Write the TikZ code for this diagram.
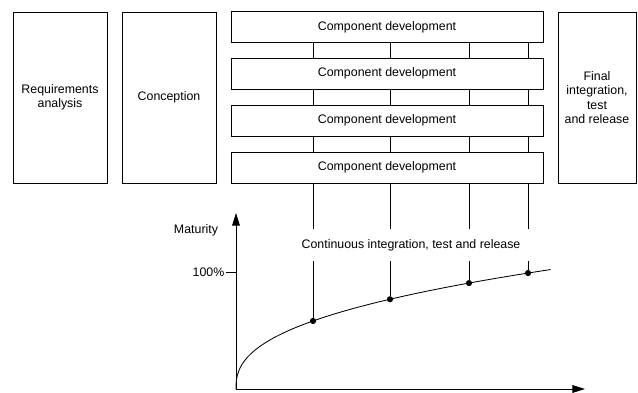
\documentclass[tikz,border=0pt]{standalone}
\usepackage{fontspec}
\setmainfont{Liberation Sans}
\usetikzlibrary{positioning, arrows.meta, backgrounds}

\begin{document}
\begin{tikzpicture}[
    x=0.025cm, y=-0.025cm,
    % Phase box style - tall boxes
    phase/.style={
        rectangle,
        draw=black,
        fill=white,
        line width=0.6pt,
        minimum width=2.35cm,
        minimum height=4.275cm,
        align=center,
        font=\fontsize{8.8}{10.2}\selectfont
    },
    % Component box style
    devbox/.style={
        rectangle,
        draw=black,
        fill=white,
        line width=0.6pt,
        minimum width=7.8cm,
        minimum height=0.775cm,
        font=\fontsize{8.8}{10.2}\selectfont
    },
    % Axis style
    axis/.style={
        -{Triangle[length=9pt, width=5.5pt]},
        line width=0.6pt
    },
    % Label style
    lbl/.style={
        font=\fontsize{8.8}{10.2}\selectfont
    },
    % Milestone dot
    dot/.style={
        circle,
        fill=black,
        inner sep=0pt,
        minimum size=4.4pt
    }
]
\useasboundingbox (0,0) rectangle (638,393);

% === Phases ===
\node[phase] (req) at (60, 97.5) {Requirements\\analysis};
\node[phase] (con) at (169, 97.5) {Conception};
\node[phase, minimum width=1.95cm] (fin) at (597, 97.5) {Final\\integration,\\test\\and release};

% Component development boxes
\node[devbox] (dev1) at (387, 27) {Component development};
\node[devbox] (dev2) at (387, 73.5) {Component development};
\node[devbox] (dev3) at (387, 120.5) {Component development};
\node[devbox] (dev4) at (387, 167.5) {Component development};

% === Maturity axes ===
\coordinate (org) at (236, 389);
\coordinate (ytop) at (236, 213);
\coordinate (xend) at (585, 389);
\draw[axis] (org) -- (ytop);
\draw[axis] (org) -- (xend);

\coordinate (full) at (236, 272);
\coordinate (tick) at (226, 272);
\draw[line width=0.6pt] (tick) -- (full);
\node[lbl, anchor=east, inner sep=1pt] at (tick) {100\%};
\node[lbl] (mat) at (196, 230) {Maturity};

% Maturity curve
\draw[line width=0.6pt] plot[domain=0:9.98, samples=100]
    ({236+\x*\x*sqrt(\x)}, {389-11.97*\x});

% Milestones on the curve
\node[dot] (m1) at (313, {389-11.97*77^0.4}) {};
\node[dot] (m2) at (390, {389-11.97*154^0.4}) {};
\node[dot] (m3) at (469, {389-11.97*233^0.4}) {};
\node[dot] (m4) at (528, {389-11.97*292^0.4}) {};

% Integration lines (behind the boxes)
\begin{scope}[on background layer]
\draw[line width=0.6pt] (dev1.south -| m1) -- (m1);
\draw[line width=0.6pt] (dev1.south -| m2) -- (m2);
\draw[line width=0.6pt] (dev1.south -| m3) -- (m3);
\draw[line width=0.6pt] (dev1.south -| m4) -- (m4);
\end{scope}

\node[lbl, fill=white, minimum width=6.3cm, minimum height=0.8cm] (ci) at (411, 245)
    {Continuous integration, test and release};

\end{tikzpicture}
\end{document}
